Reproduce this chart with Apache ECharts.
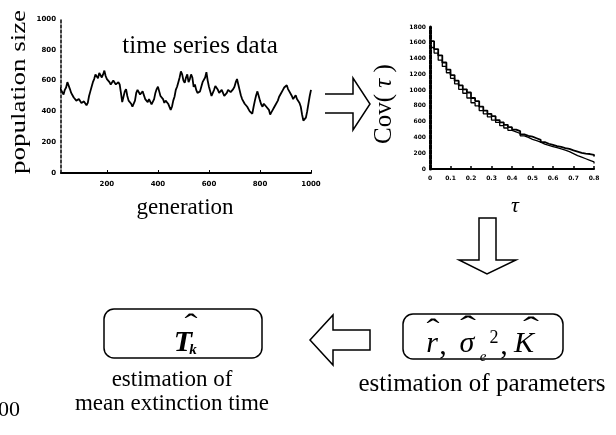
<!DOCTYPE html>
<html>
<head>
<meta charset="utf-8">
<script src="https://cdn.jsdelivr.net/npm/echarts@6/dist/echarts.min.js"></script>
<style>
html, body { margin: 0; background: #fff; }
#chart { width: 616px; height: 435px; }
</style>
</head>
<body>
<div id="chart"></div>
<script>
// time series (left panel), every 5 generations
const generations = [5,10,15,20,25,30,35,40,45,50,55,60,65,70,75,80,85,90,95,100,
  105,110,115,120,125,130,135,140,145,150,155,160,165,170,175,180,185,190,195,200,
  205,210,215,220,225,230,235,240,245,250,255,260,265,270,275,280,285,290,295,300,
  305,310,315,320,325,330,335,340,345,350,355,360,365,370,375,380,385,390,395,400,
  405,410,415,420,425,430,435,440,445,450,455,460,465,470,475,480,485,490,495,500,
  505,510,515,520,525,530,535,540,545,550,555,560,565,570,575,580,585,590,595,600,
  605,610,615,620,625,630,635,640,645,650,655,660,665,670,675,680,685,690,695,700,
  705,710,715,720,725,730,735,740,745,750,755,760,765,770,775,780,785,790,795,800,
  805,810,815,820,825,830,835,840,845,850,855,860,865,870,875,880,885,890,895,900,
  905,910,915,920,925,930,935,940,945,950,955,960,965,970,975,980,985,990,995,1000]
const populationSize = [500,520,555,540,525,510,540,555,590,580,545,520,505,490,495,470,460,480,475,455,
  445,465,470,440,455,500,530,560,590,610,640,630,615,650,660,620,640,665,630,610,
  600,590,575,585,600,590,575,580,590,575,520,460,495,530,545,500,470,460,450,430,
  440,470,520,540,545,510,500,530,540,480,470,460,480,470,445,450,480,520,545,560,
  530,500,510,480,455,470,480,450,440,410,430,470,495,540,560,590,620,660,640,600,
  585,620,640,590,610,640,620,560,575,540,520,510,530,560,590,600,620,655,600,560,
  530,500,510,540,565,575,540,520,525,540,520,500,505,520,540,545,525,530,545,560,
  590,610,575,540,505,480,470,450,440,430,415,400,395,385,430,470,505,530,500,470,
  445,430,450,460,430,440,410,380,395,410,425,440,450,470,495,510,520,540,555,560,
  570,545,530,520,500,480,490,505,480,470,455,430,380,340,330,360,400,450,500,540]
const popXTicks = [200, 400, 600, 800, 1000]

// covariance (right panel)
const tauValues = [0,0.02,0.04,0.06,0.08,0.1,0.12,0.14,0.16,0.18,0.2,0.22,0.24,0.26,0.28,0.3,0.32,0.34,0.36,0.38,0.4,
  0.42,0.44,0.46,0.48,0.5,0.52,0.54,0.56,0.58,0.6,0.62,0.64,0.66,0.68,0.7,0.72,0.74,0.76,0.78,0.8]
const covUpper = [1620,1520,1440,1350,1260,1190,1120,1060,1010,970,900,860,790,740,700,670,620,590,560,530,500,
  480,440,420,410,390,370,340,320,305,290,280,265,255,235,220,205,195,190,180,160]
const covLower = [1540,1470,1380,1300,1220,1150,1080,1010,960,900,840,800,740,700,660,620,590,550,520,490,470,
  450,420,400,375,360,340,315,300,285,270,255,240,220,195,170,150,130,110,90,70]

const chart = echarts.init(document.getElementById('chart'))
const serif = '"Liberation Serif", "Times New Roman", serif'
const tickFont = { fontFamily: 'DejaVu Sans', fontWeight: 'bold', fontSize: 7, color: '#000' }
const plain = v => String(v)

const txt = (text, x, y, size, extra) => Object.assign({
  type: 'text', x: x, y: y,
  style: Object.assign({ text: text, font: size + 'px ' + serif, fill: '#000', align: 'center', verticalAlign: 'middle' }, (extra && extra.style) || {})
}, extra && extra.el)

const option = {
  animation: false,
  backgroundColor: '#fff',
  grid: [
    { left: 61, top: 19, width: 250, height: 154 },
    { left: 430, top: 27, width: 164, height: 142 }
  ],
  xAxis: [
    {
      gridIndex: 0, type: 'value', min: 20, max: 1000,
      axisLine: { lineStyle: { color: '#000', width: 2 } },
      axisTick: { show: true, inside: true, length: 3, customValues: popXTicks, lineStyle: { color: '#000' } },
      axisLabel: Object.assign({ customValues: popXTicks, margin: 8, formatter: plain }, tickFont),
      splitLine: { show: false }
    },
    {
      gridIndex: 1, type: 'value', min: 0, max: 0.8, interval: 0.1,
      axisLine: { lineStyle: { color: '#000', width: 2 } },
      axisTick: { inside: true, length: 3, lineStyle: { color: '#000', width: 1.5 } },
      axisLabel: Object.assign({}, tickFont, { fontSize: 6, margin: 6, formatter: plain }),
      splitLine: { show: false }
    }
  ],
  yAxis: [
    {
      gridIndex: 0, type: 'value', min: 0, max: 1000, interval: 200,
      axisLine: { show: true, lineStyle: { color: '#000', width: 1.5, type: [3, 2] } },
      axisTick: { show: false },
      axisLabel: Object.assign({ margin: 5, formatter: plain }, tickFont),
      splitLine: { show: false }
    },
    {
      gridIndex: 1, type: 'value', min: 0, max: 1800, interval: 200,
      axisLine: { show: true, lineStyle: { color: '#000', width: 3, type: [4, 1] } },
      axisTick: { show: false },
      axisLabel: Object.assign({}, tickFont, { fontSize: 6, margin: 4, formatter: plain }),
      splitLine: { show: false }
    }
  ],
  series: [
    {
      type: 'line', xAxisIndex: 0, yAxisIndex: 0, symbol: 'none',
      lineStyle: { color: '#000', width: 1.8 },
      data: generations.map((g, i) => [g, populationSize[i]])
    },
    {
      type: 'line', xAxisIndex: 1, yAxisIndex: 1, symbol: 'none', step: 'end',
      lineStyle: { color: '#000', width: 1.8 },
      data: tauValues.map((t, i) => [t, covUpper[i]])
    },
    {
      type: 'line', xAxisIndex: 1, yAxisIndex: 1, symbol: 'none', step: 'end',
      lineStyle: { color: '#000', width: 1.3 },
      data: tauValues.map((t, i) => [t, covLower[i]])
    }
  ],
  graphic: [
    // axis titles
    txt('population size', 20, 92, 20, { el: { rotation: Math.PI / 2, scaleX: 1.35 } }),
    txt('time series data', 200, 46, 25),
    txt('generation', 185, 208, 23),
    {
      type: 'text', x: 384, y: 104, rotation: Math.PI / 2,
      style: {
        text: 'Cov( {t|τ} )', font: '25px ' + serif, fill: '#000', align: 'center', verticalAlign: 'middle',
        rich: { t: { font: 'italic 25px ' + serif } }
      }
    },
    txt('τ', 515, 206, 22, { style: { font: 'italic 22px ' + serif } }),

    // arrows
    { type: 'polyline', shape: { points: [[325, 94], [353, 94], [353, 78], [370, 104], [353, 130], [353, 113], [325, 113]] },
      style: { stroke: '#000', lineWidth: 1.5, fill: null } },
    { type: 'polygon', shape: { points: [[479, 218], [496, 218], [496, 260], [516, 260], [487, 274], [459, 260], [479, 260]] },
      style: { stroke: '#000', lineWidth: 1.5, fill: '#fff' } },
    { type: 'polygon', shape: { points: [[370, 330], [333, 330], [333, 315], [310, 340], [333, 365], [333, 350], [370, 350]] },
      style: { stroke: '#000', lineWidth: 1.5, fill: '#fff' } },

    // boxes
    { type: 'rect', shape: { x: 104, y: 309, width: 158, height: 49, r: 10 }, style: { stroke: '#000', lineWidth: 1.5, fill: null } },
    { type: 'rect', shape: { x: 403, y: 314, width: 160, height: 45, r: 10 }, style: { stroke: '#000', lineWidth: 1.5, fill: null } },

    // left box content
    txt('T', 183, 343, 30, { style: { font: 'italic bold 30px ' + serif } }),
    txt('k', 193, 350, 15, { style: { font: 'italic bold 15px ' + serif } }),
    txt('ˆ', 191, 326, 30, { el: { scaleX: 1.3 } }),

    // right box content
    txt('r', 432, 344, 30, { style: { font: 'italic 30px ' + serif } }),
    txt(',', 443, 346, 30),
    txt('σ', 467, 344, 30, { style: { font: 'italic 30px ' + serif } }),
    txt('e', 483, 357, 15, { style: { font: 'italic 15px ' + serif } }),
    txt('2', 494, 338, 18),
    txt(',', 504, 346, 30),
    txt('K', 524, 344, 30, { style: { font: 'italic 30px ' + serif } }),
    txt('ˆ', 433, 331, 30, { el: { scaleX: 1.3 } }),
    txt('ˆ', 468, 328, 30, { el: { scaleX: 1.6 } }),
    txt('ˆ', 531, 329, 30, { el: { scaleX: 1.6 } }),

    // captions
    txt('estimation of', 172, 380, 23),
    txt('mean extinction time', 172, 404, 23),
    txt('estimation of parameters', 482, 384, 25),
    txt('00', 9, 410, 22)
  ]
}

chart.setOption(option)
</script>
</body>
</html>
